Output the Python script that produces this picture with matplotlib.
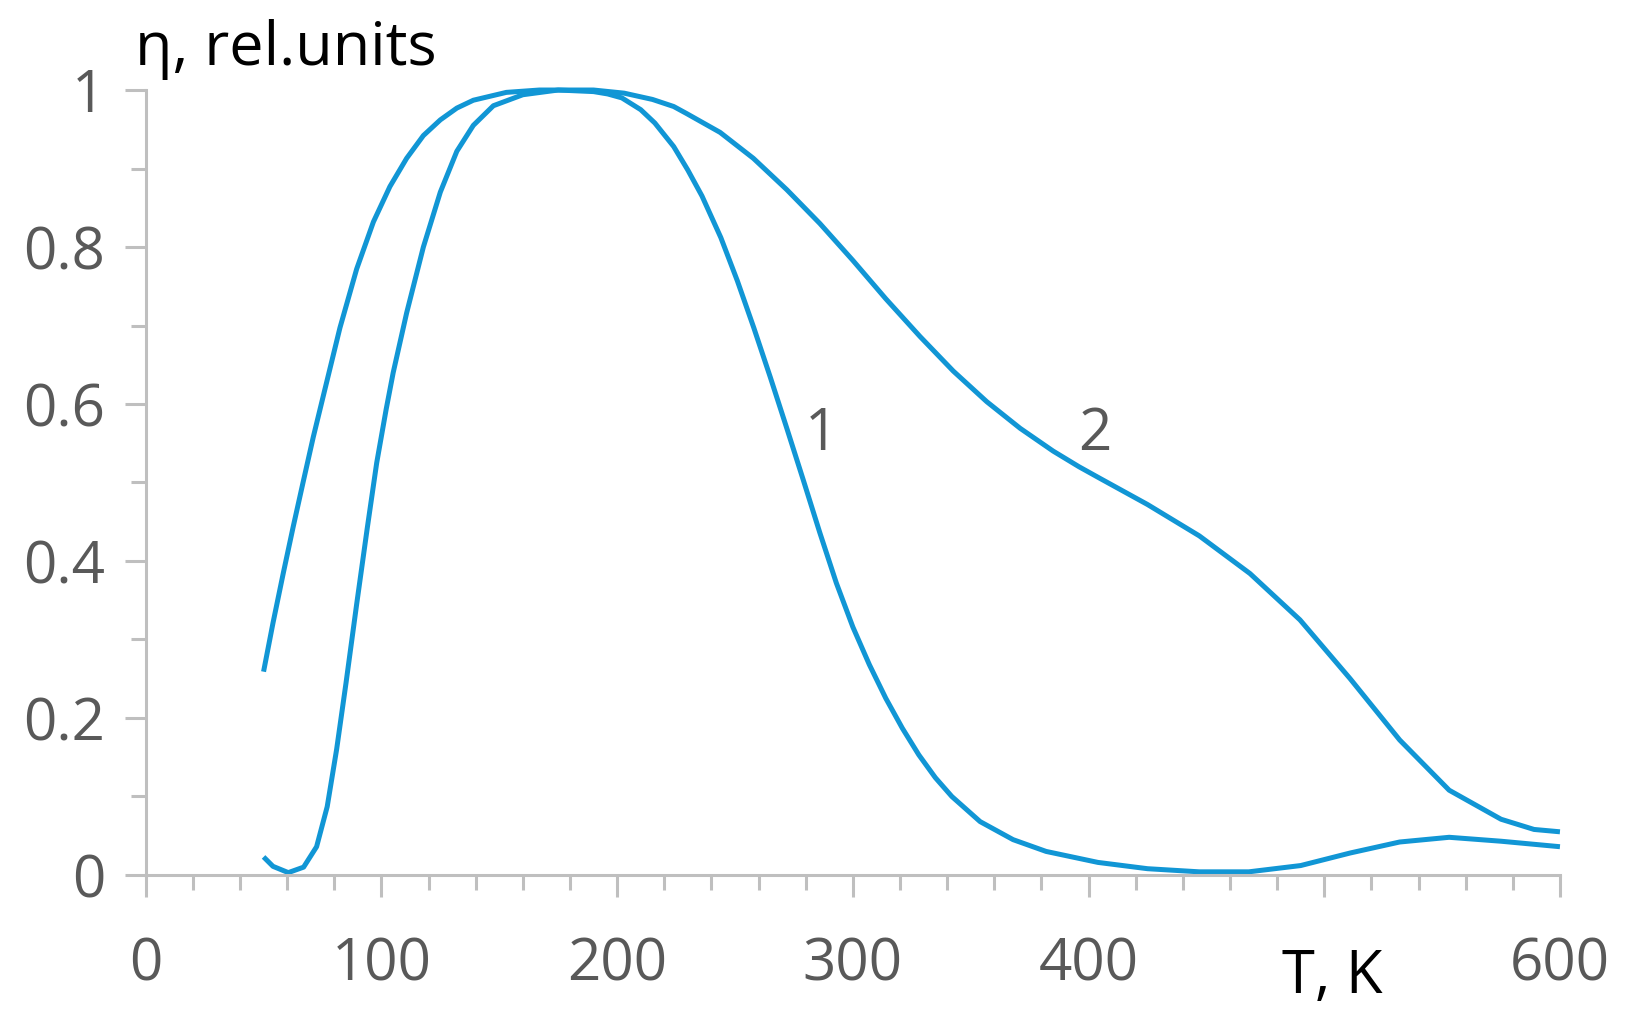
import matplotlib as mpl
mpl.use('Agg')
import matplotlib.pyplot as plt
from matplotlib.ticker import MultipleLocator, FixedLocator

mpl.rc('font', family=['Open Sans', 'DejaVu Sans'])

# curve 1 (narrow peak)
temp_1 = [50, 54, 60.5, 67, 72.5, 77, 81, 85, 89.5, 94, 98, 102, 105, 110.7,
          117.8, 125, 132, 139, 147.5, 160, 175, 190, 196, 202, 210, 216,
          224, 230, 236, 244, 251, 258, 265, 272, 279, 286, 293, 300, 307,
          314, 321, 328, 335, 342, 354, 368, 382, 404, 425, 447, 468, 490,
          511, 532, 553, 575, 600]
eta_1 = [0.023, 0.011, 0.003, 0.010, 0.036, 0.087, 0.160, 0.245, 0.345,
         0.442, 0.525, 0.593, 0.640, 0.716, 0.800, 0.870, 0.922, 0.955,
         0.980, 0.994, 1.0, 0.998, 0.995, 0.990, 0.975, 0.958, 0.928, 0.898,
         0.865, 0.812, 0.757, 0.697, 0.634, 0.569, 0.503, 0.436, 0.372,
         0.316, 0.268, 0.225, 0.187, 0.153, 0.124, 0.100, 0.068, 0.045,
         0.030, 0.016, 0.008, 0.004, 0.004, 0.012, 0.028, 0.042, 0.048,
         0.043, 0.036]

# curve 2 (wide peak)
temp_2 = [50, 54, 58.4, 62.6, 66.9, 71.1, 75.4, 82.4, 89.5, 96.6, 103.6,
          110.7, 117.8, 125, 132, 139, 153, 167, 190, 203, 215, 224, 229.5,
          243.7, 257.8, 272, 286, 300, 314, 328.5, 342.6, 356.8, 371, 385,
          396, 405, 425, 447, 468.5, 489.7, 511, 532, 553, 575, 589, 600]
eta_2 = [0.259, 0.321, 0.385, 0.444, 0.502, 0.558, 0.611, 0.697, 0.772,
         0.832, 0.877, 0.913, 0.942, 0.962, 0.977, 0.987, 0.997, 1.0, 1.0,
         0.996, 0.988, 0.979, 0.970, 0.946, 0.913, 0.873, 0.830, 0.783,
         0.734, 0.686, 0.642, 0.603, 0.569, 0.540, 0.520, 0.505, 0.472,
         0.432, 0.384, 0.325, 0.250, 0.172, 0.108, 0.071, 0.058, 0.055]

y_ticks = [0, 0.2, 0.4, 0.6, 0.8, 1]
y_ticklabels = ['0', '0.2', '0.4', '0.6', '0.8', '1']
x_ticks = [0, 100, 200, 300, 400, 500, 600]
x_ticklabels = ['0', '100', '200', '300', '400', '', '600']

line_colour = '#1196D5'
axis_colour = '#BFBFBF'
text_grey = '#595959'

fig = plt.figure(figsize=(16.28, 10.23), dpi=100)
ax = fig.add_axes([0.0895, 0.1447, 0.8687, 0.7673])

ax.plot(temp_1, eta_1, color=line_colour, linewidth=3.6, clip_on=False,
        solid_capstyle='butt', solid_joinstyle='round')
ax.plot(temp_2, eta_2, color=line_colour, linewidth=3.6, clip_on=False,
        solid_capstyle='butt', solid_joinstyle='round')

ax.set_xlim(0, 600)
ax.set_ylim(0, 1)

for side in ['top', 'right']:
    ax.spines[side].set_visible(False)
for side in ['left', 'bottom']:
    ax.spines[side].set_color(axis_colour)
    ax.spines[side].set_linewidth(2.2)

ax.xaxis.set_major_locator(FixedLocator(x_ticks))
ax.set_xticklabels(x_ticklabels)
ax.xaxis.set_minor_locator(MultipleLocator(20))
ax.yaxis.set_major_locator(FixedLocator(y_ticks))
ax.set_yticklabels(y_ticklabels)
ax.yaxis.set_minor_locator(MultipleLocator(0.1))

ax.tick_params(axis='both', which='both', direction='out', color=axis_colour,
               width=2.2, labelcolor=text_grey, labelsize=42)
ax.tick_params(axis='x', which='major', length=16, pad=28)
ax.tick_params(axis='x', which='minor', length=11)
ax.tick_params(axis='y', which='major', length=15, pad=14)
ax.tick_params(axis='y', which='minor', length=11)

# curve numbers
ax.text(286.7, 0.541, '1', fontsize=42, color=text_grey, ha='center',
        va='baseline')
ax.text(402.5, 0.541, '2', fontsize=42, color=text_grey, ha='center',
        va='baseline')

# axis titles sit like in a spreadsheet chart
fig.text(135 / 1628, 1 - 65 / 1023, 'η, rel.units', fontsize=44,
         color='black', ha='left', va='baseline')
fig.text(1282 / 1628, 1 - 993 / 1023, 'T, K', fontsize=43, color='black',
         ha='left', va='baseline')

fig.savefig('out.png', dpi=100)
